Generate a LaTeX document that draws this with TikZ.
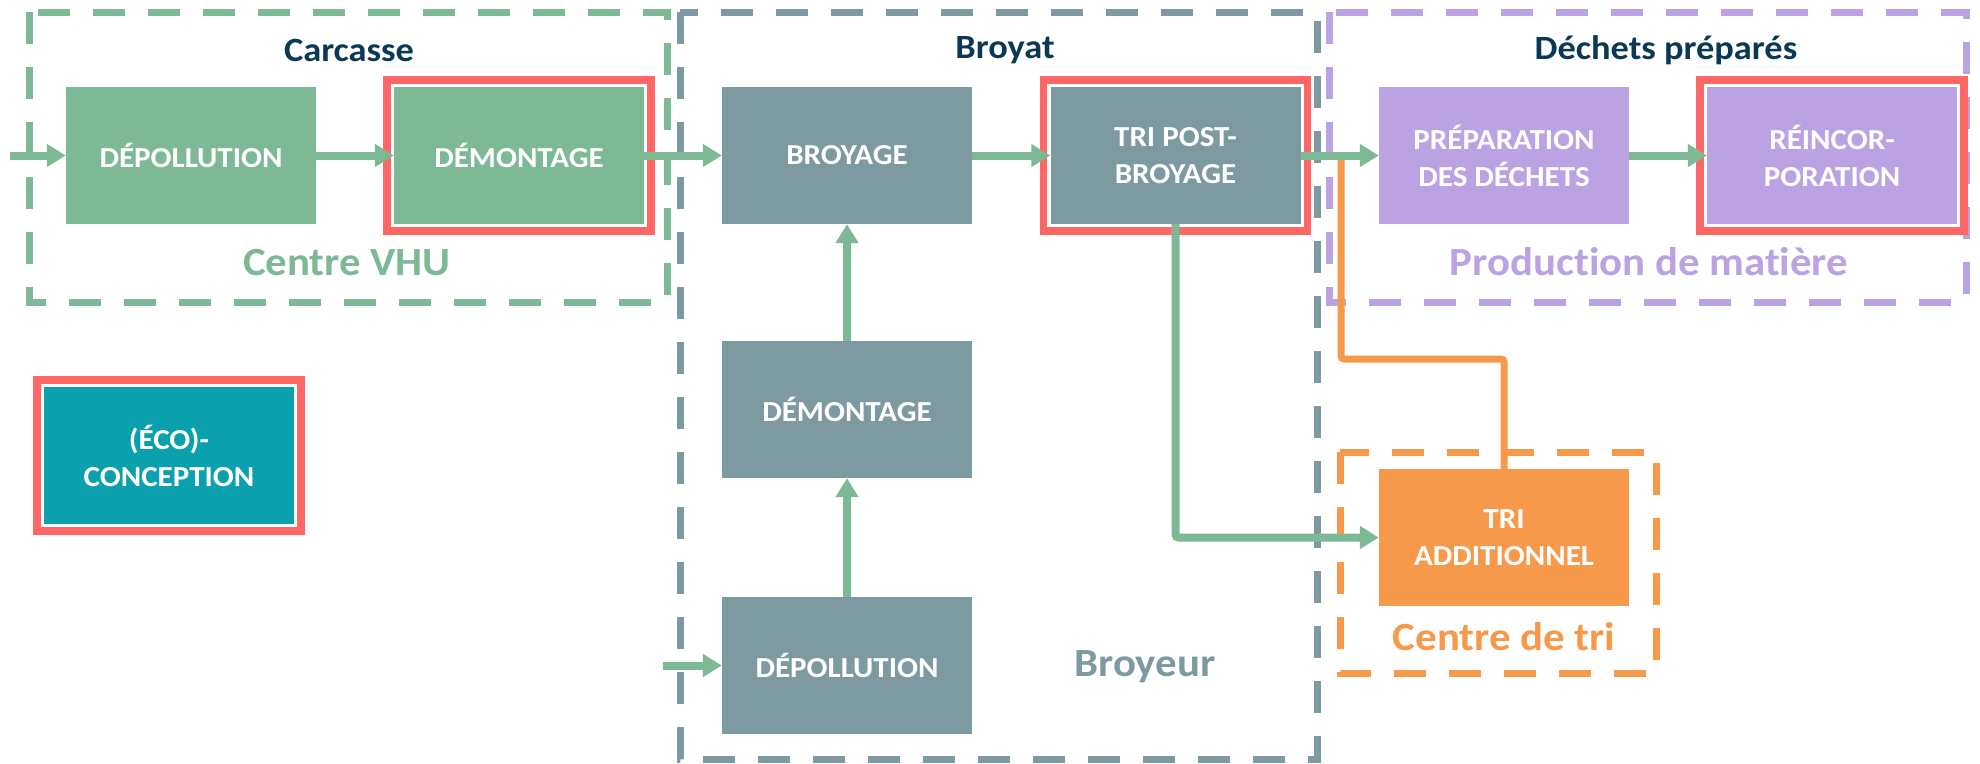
\documentclass[tikz,border=0pt]{standalone}
\usepackage{fontspec}
\setmainfont{Carlito}[FakeStretch=1.07, Ligatures=NoCommon]
\usetikzlibrary{arrows.meta,calc}
\definecolor{cgreen}{HTML}{7EB995}
\definecolor{cgrey}{HTML}{7C9A9F}
\definecolor{cpurple}{HTML}{BBA3E3}
\definecolor{corange}{HTML}{F7994A}
\definecolor{cteal}{HTML}{0AA0AE}
\definecolor{cred}{HTML}{FF6666}
\definecolor{cnavy}{HTML}{0B3954}
\begin{document}
\begin{tikzpicture}[x=1pt,y=-1pt,
  proc/.style={minimum width=250pt, minimum height=137pt, inner sep=0pt, text=white,
    font=\fontsize{29}{37}\selectfont\bfseries, align=center},
  redframe/.style={draw=cred, line width=7.5pt},
  zone/.style={line width=7pt, dash pattern=on 32pt off 23pt},
  flow/.style={draw=cgreen, line width=8pt, -{Triangle[length=19pt,width=22pt]}},
  oline/.style={draw=corange, line width=7pt, rounded corners=3pt},
  title/.style={text=cnavy, font=\fontsize{34}{40}\selectfont\bfseries},
  zlabel/.style={font=\fontsize{40}{48}\selectfont\bfseries}]
\useasboundingbox (0,0) rectangle (1980,763);
\fill[white] (0,0) rectangle (1980,763);

% zones
\draw[zone, draw=cgreen] (29,12) rectangle (667,302);
\draw[zone, draw=cgrey] (680,12) rectangle (1317,759);
\draw[zone, draw=cpurple] (1329,12) rectangle (1966,302);
\draw[zone, draw=corange] (1340,452) rectangle (1656,673);

% process boxes
\node[proc, fill=cgreen] (dep1) at (191,155.5) {DÉPOLLUTION};
\node[proc, fill=cgreen] (dem1) at (519,155.5) {DÉMONTAGE};
\node[proc, fill=cgrey] (broy) at (847,155.5) {BROYAGE};
\node[proc, fill=cgrey] (tripost) at (1175.5,155.5) {TRI POST-\\BROYAGE};
\node[proc, fill=cpurple] (prep) at (1504,155.5) {PRÉPARATION\\DES DÉCHETS};
\node[proc, fill=cpurple] (reinc) at (1832,155.5) {RÉINCOR-\\PORATION};
\node[proc, fill=cteal] (eco) at (169,455.5) {(ÉCO)-\\CONCEPTION};
\node[proc, fill=cgrey] (dem2) at (847,409.5) {DÉMONTAGE};
\node[proc, fill=cgrey] (dep2) at (847,665.5) {DÉPOLLUTION};
\node[proc, fill=corange] (triadd) at (1504,537.5) {TRI\\ADDITIONNEL};

% red frames
\foreach \n in {dem1,tripost,reinc,eco}
  \draw[redframe] ($(\n.north west)+(-7,-7)$) rectangle ($(\n.south east)+(7,7)$);

% titles and zone labels
\node[title] (tcar) at (349,50) {Carcasse};
\node[title] (tbro) at (1005,50) {Broyat};
\node[title] (tdec) at (1666,50) {Déchets préparés};
\node[zlabel, text=cgreen] (lvhu) at (347,263) {Centre VHU};
\node[zlabel, text=cpurple] (lprod) at (1649,262) {Production de matière};
\node[zlabel, text=cgrey] (lbroy) at (1145,667) {Broyeur};
\node[zlabel, text=corange] (ltri) at (1504,637) {Centre de tri};

% connectors
\coordinate (in1) at (10,155.5);
\coordinate (in2) at (663,665.5);
\coordinate (obr) at (1341,160);
\draw[oline] (triadd.north) -- (triadd.north |- 0,359) -- (obr |- 0,359) -- (obr);
\draw[flow] (in1) -- (dep1.west);
\draw[flow] (dep1.east) -- (dem1.west);
\draw[flow] (dem1.east) -- (broy.west);
\draw[flow] (broy.east) -- (tripost.west);
\draw[flow] (tripost.east) -- (prep.west);
\draw[flow] (prep.east) -- (reinc.west);
\draw[flow, rounded corners=3pt] (tripost.south) -- (tripost.south |- triadd.west) -- (triadd.west);
\draw[flow] (in2) -- (dep2.west);
\draw[flow] (dep2.north) -- (dem2.south);
\draw[flow] (dem2.north) -- (broy.south);
\end{tikzpicture}
\end{document}
